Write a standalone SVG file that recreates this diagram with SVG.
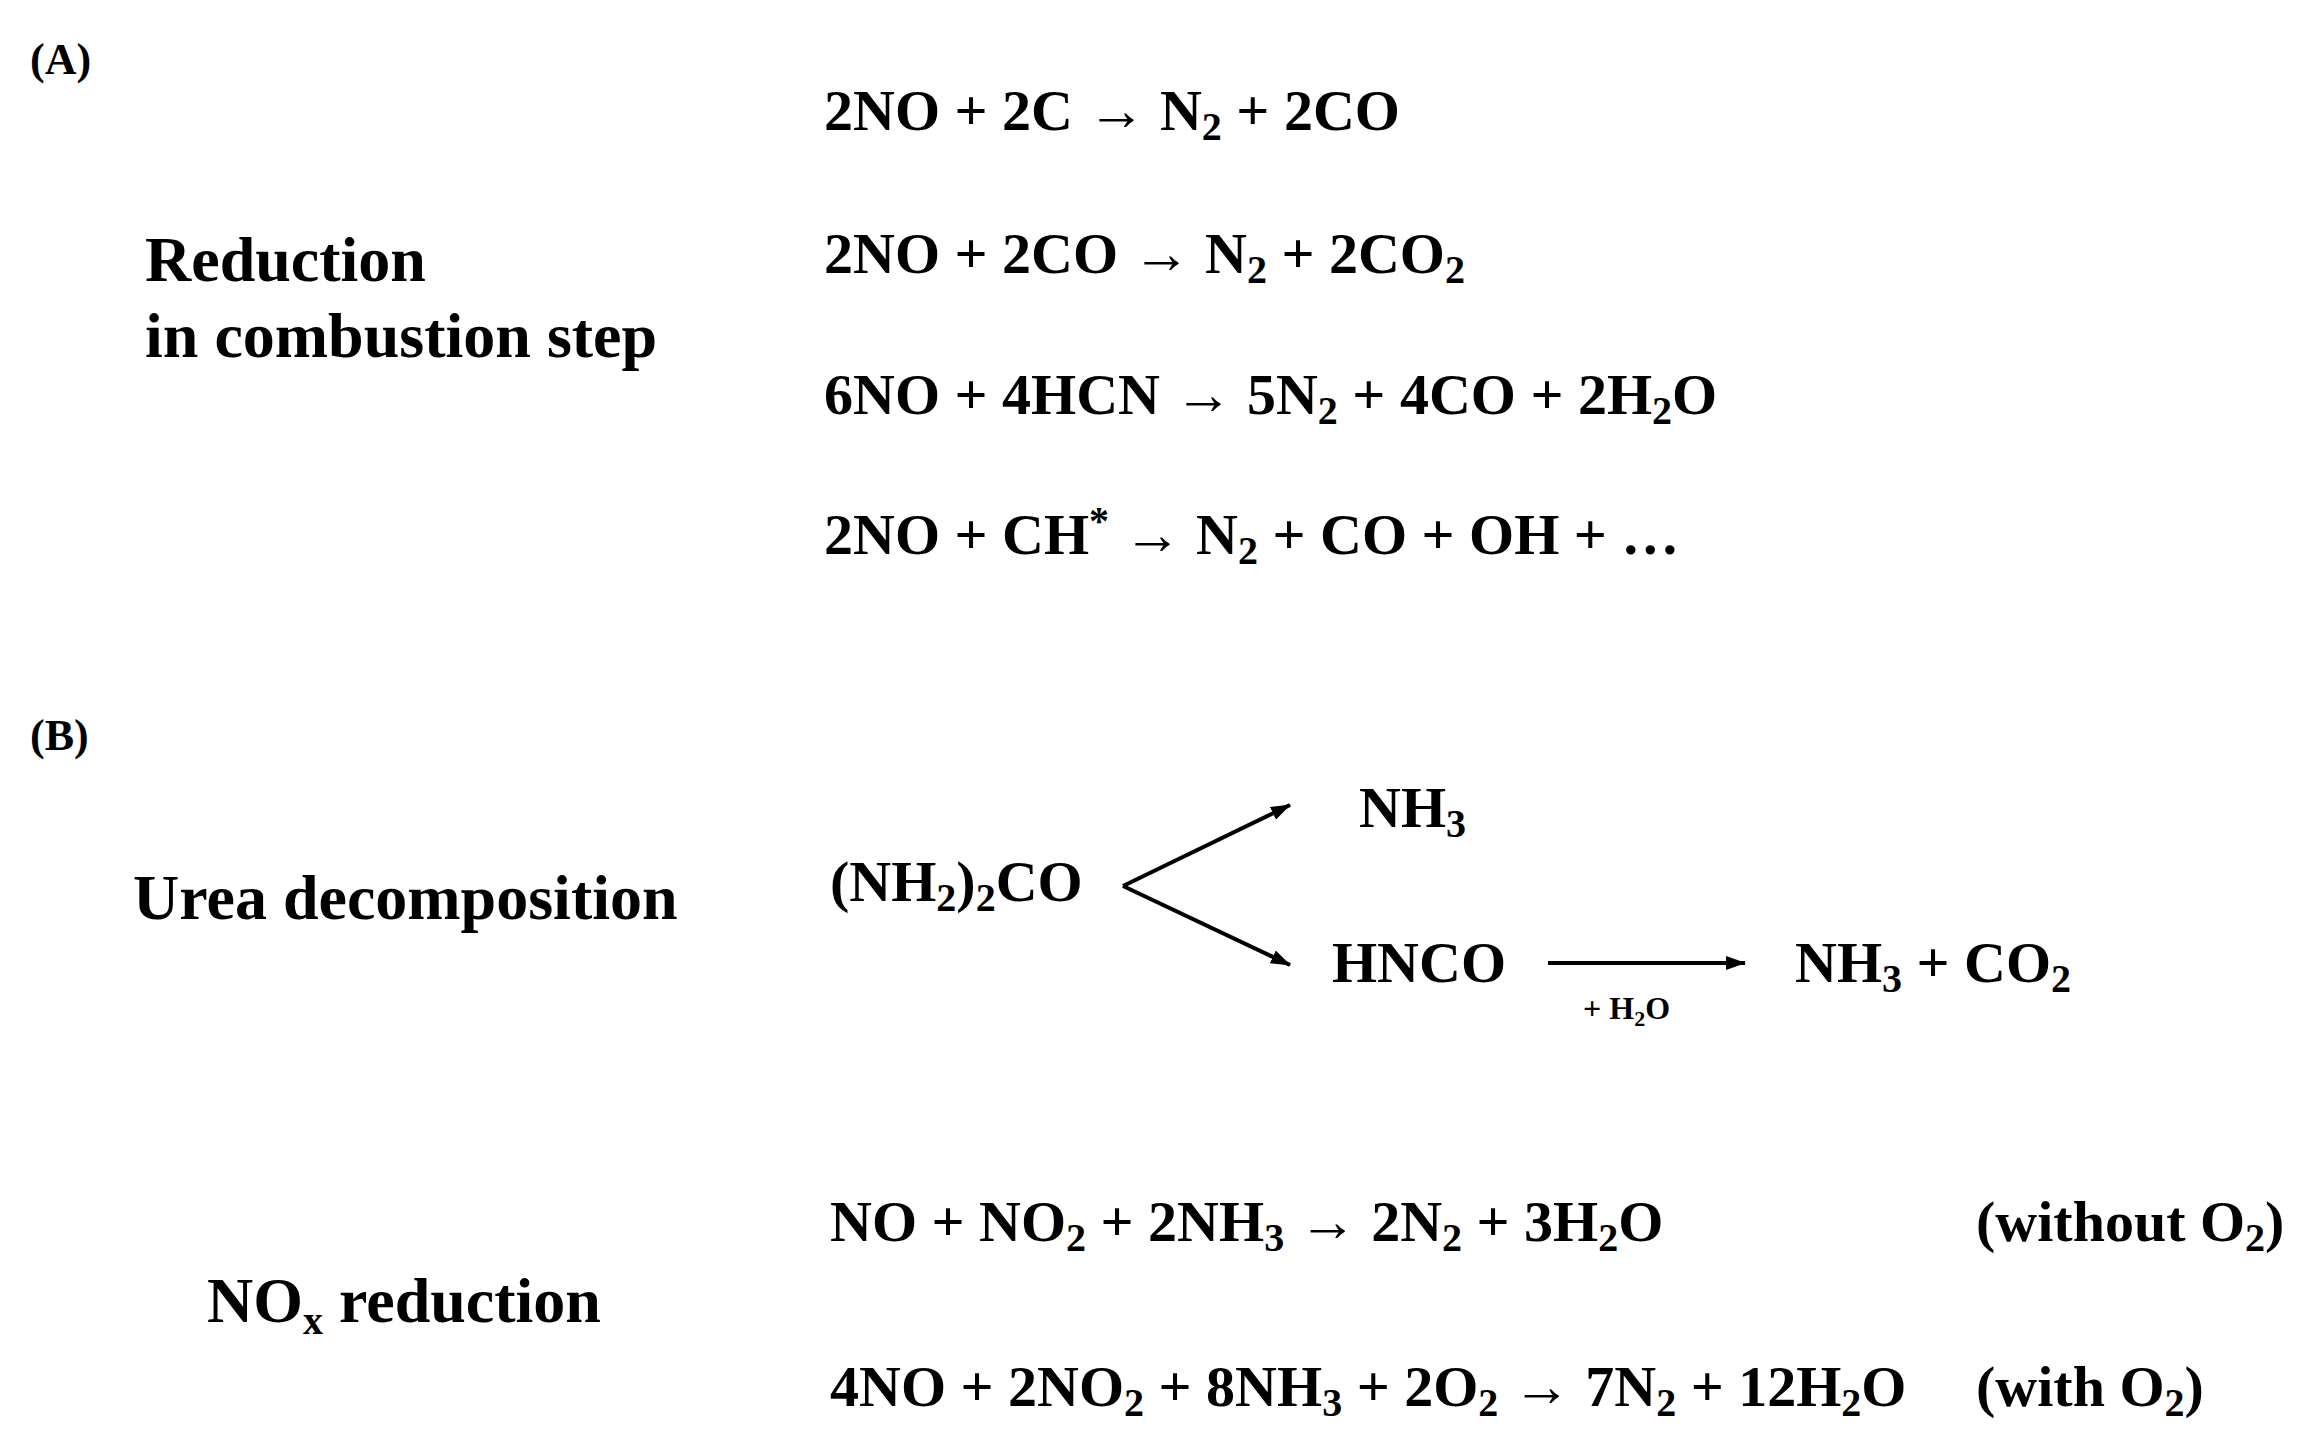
<svg xmlns="http://www.w3.org/2000/svg" width="2316" height="1452" viewBox="0 0 2316 1452">
<style>
text{font-family:"Liberation Serif","Times New Roman",serif;font-weight:bold;fill:#000}
.eq{font-size:58px}
.lb{font-size:64px}
.tag{font-size:44px}
.s{font-size:40px}
.sm{font-size:32px}
.ss{font-size:22px}
line{stroke:#000;stroke-width:4}
</style>
<defs>
<marker id="ah" markerWidth="10" markerHeight="8" refX="9" refY="4" orient="auto" markerUnits="userSpaceOnUse" viewBox="0 0 10 8"><path d="M0,0L10,4L0,8z" fill="#000"/></marker>
<marker id="ah2" viewBox="0 0 20 14" refX="19" refY="7" markerWidth="20" markerHeight="14" orient="auto" markerUnits="userSpaceOnUse"><path d="M0,0L20,7L0,14z" fill="#000"/></marker>
</defs>
<rect width="2316" height="1452" fill="#fff"/>
<g id="sectionA">
<text class="tag" x="30" y="74">(A)</text>
<text class="lb" x="145" y="281">Reduction</text>
<text class="lb" x="145" y="357">in combustion step</text>
<text class="eq" x="824" y="130">2NO + 2C → N<tspan class="s" dy="10">2</tspan><tspan dy="-10"> + 2CO</tspan></text>
<text class="eq" x="824" y="273">2NO + 2CO → N<tspan class="s" dy="10">2</tspan><tspan dy="-10"> + 2CO</tspan><tspan class="s" dy="10">2</tspan></text>
<text class="eq" x="824" y="414">6NO + 4HCN → 5N<tspan class="s" dy="10">2</tspan><tspan dy="-10"> + 4CO + 2H</tspan><tspan class="s" dy="10">2</tspan><tspan dy="-10">O</tspan></text>
<text class="eq" x="824" y="554">2NO + CH<tspan class="s" dy="-20">*</tspan><tspan dy="20"> → N</tspan><tspan class="s" dy="10">2</tspan><tspan dy="-10"> + CO + OH + …</tspan></text>
</g>
<g id="sectionB">
<text class="tag" x="30" y="750">(B)</text>
<text class="lb" x="133" y="919">Urea decomposition</text>
<text class="eq" x="830" y="901">(NH<tspan class="s" dy="10">2</tspan><tspan dy="-10">)</tspan><tspan class="s" dy="10">2</tspan><tspan dy="-10">CO</tspan></text>
<text class="eq" x="1359" y="827">NH<tspan class="s" dy="10">3</tspan></text>
<text class="eq" x="1332" y="982">HNCO</text>
<text class="eq" x="1795" y="982">NH<tspan class="s" dy="10">3</tspan><tspan dy="-10"> + CO</tspan><tspan class="s" dy="10">2</tspan></text>
<text class="sm" x="1583" y="1019">+ H<tspan class="ss" dy="7">2</tspan><tspan dy="-7">O</tspan></text>
</g>
<g id="connectors">
<line x1="1123" y1="886" x2="1290" y2="805" marker-end="url(#ah2)"/>
<line x1="1123" y1="886" x2="1290" y2="965" marker-end="url(#ah2)"/>
<line x1="1548" y1="963" x2="1745" y2="963" marker-end="url(#ah2)"/>
</g>
<g id="nox">
<text class="eq" x="830" y="1241">NO + NO<tspan class="s" dy="10">2</tspan><tspan dy="-10"> + 2NH</tspan><tspan class="s" dy="10">3</tspan><tspan dy="-10"> → 2N</tspan><tspan class="s" dy="10">2</tspan><tspan dy="-10"> + 3H</tspan><tspan class="s" dy="10">2</tspan><tspan dy="-10">O</tspan></text>
<text class="eq" x="1976" y="1241">(without  O<tspan class="s" dy="10">2</tspan><tspan dy="-10">)</tspan></text>
<text class="lb" x="207" y="1322">NO<tspan class="s" dy="12">x</tspan><tspan dy="-12"> reduction</tspan></text>
<text class="eq" x="830" y="1406">4NO + 2NO<tspan class="s" dy="10">2</tspan><tspan dy="-10"> + 8NH</tspan><tspan class="s" dy="10">3</tspan><tspan dy="-10"> + 2O</tspan><tspan class="s" dy="10">2</tspan><tspan dy="-10"> → 7N</tspan><tspan class="s" dy="10">2</tspan><tspan dy="-10"> + 12H</tspan><tspan class="s" dy="10">2</tspan><tspan dy="-10">O</tspan></text>
<text class="eq" x="1976" y="1406">(with  O<tspan class="s" dy="10">2</tspan><tspan dy="-10">)</tspan></text>
</g>
</svg>
